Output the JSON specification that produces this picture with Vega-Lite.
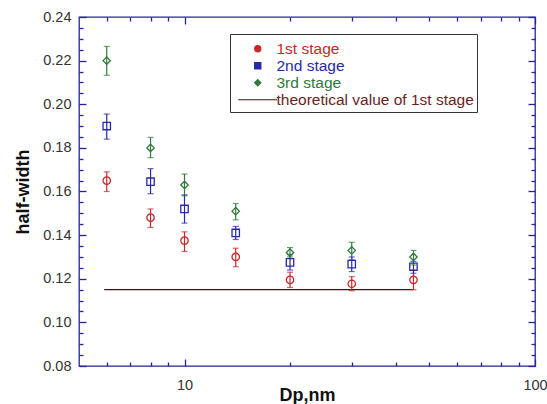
{
  "$schema": "https://vega.github.io/schema/vega-lite/v6.json",
  "width": 456,
  "height": 349,
  "autosize": {"type": "none"},
  "padding": {"left": 79, "top": 17, "right": 12, "bottom": 38},
  "background": "white",
  "config": {
    "view": {"stroke": "#24249c", "strokeWidth": 1.3},
    "font": "Liberation Sans",
    "axis": {
      "domain": false,
      "ticks": true,
      "tickColor": "#24249c",
      "tickWidth": 1.3,
      "tickOpacity": 1,
      "grid": false,
      "zindex": 1,
      "labelColor": "#333333",
      "labelFont": "Liberation Sans",
      "labelFontSize": 14.5,
      "titleFont": "Liberation Sans",
      "titleFontSize": 18,
      "titleFontWeight": "bold",
      "titleColor": "#111111",
      "labelFlush": false,
      "labelOverlap": false
    }
  },
  "datasets": {
    "pts": [
      {"x": 6, "y": 0.165, "lo": 0.160, "hi": 0.169, "s": "1st stage"},
      {"x": 8, "y": 0.148, "lo": 0.1435, "hi": 0.152, "s": "1st stage"},
      {"x": 10, "y": 0.1375, "lo": 0.1325, "hi": 0.1415, "s": "1st stage"},
      {"x": 14, "y": 0.130, "lo": 0.1255, "hi": 0.134, "s": "1st stage"},
      {"x": 20, "y": 0.1195, "lo": 0.116, "hi": 0.123, "s": "1st stage"},
      {"x": 30, "y": 0.1177, "lo": 0.1145, "hi": 0.121, "s": "1st stage"},
      {"x": 45, "y": 0.1195, "lo": 0.115, "hi": 0.124, "s": "1st stage"},
      {"x": 6, "y": 0.190, "lo": 0.184, "hi": 0.1955, "s": "2nd stage"},
      {"x": 8, "y": 0.1645, "lo": 0.159, "hi": 0.1705, "s": "2nd stage"},
      {"x": 10, "y": 0.152, "lo": 0.1455, "hi": 0.1585, "s": "2nd stage"},
      {"x": 14, "y": 0.141, "lo": 0.138, "hi": 0.144, "s": "2nd stage"},
      {"x": 20, "y": 0.1275, "lo": 0.124, "hi": 0.131, "s": "2nd stage"},
      {"x": 30, "y": 0.1267, "lo": 0.1233, "hi": 0.130, "s": "2nd stage"},
      {"x": 45, "y": 0.1255, "lo": 0.1225, "hi": 0.128, "s": "2nd stage"},
      {"x": 6, "y": 0.220, "lo": 0.2133, "hi": 0.2265, "s": "3rd stage"},
      {"x": 8, "y": 0.180, "lo": 0.1755, "hi": 0.1848, "s": "3rd stage"},
      {"x": 10, "y": 0.163, "lo": 0.158, "hi": 0.168, "s": "3rd stage"},
      {"x": 14, "y": 0.151, "lo": 0.147, "hi": 0.1545, "s": "3rd stage"},
      {"x": 20, "y": 0.132, "lo": 0.130, "hi": 0.1343, "s": "3rd stage"},
      {"x": 30, "y": 0.133, "lo": 0.1287, "hi": 0.1367, "s": "3rd stage"},
      {"x": 45, "y": 0.130, "lo": 0.1263, "hi": 0.133, "s": "3rd stage"}
    ],
    "th": [
      {"x": 5.9, "y": 0.115, "s": "theoretical value of 1st stage"},
      {"x": 45, "y": 0.115, "s": "theoretical value of 1st stage"}
    ]
  },
  "resolve": {"axis": {"x": "independent", "y": "independent"}},
  "layer": [
    {
      "data": {"name": "th"},
      "mark": {"type": "line", "strokeWidth": 1.3},
      "encoding": {
        "x": {
          "field": "x", "type": "quantitative",
          "scale": {"type": "log", "domain": [5, 100], "nice": false},
          "axis": {
            "orient": "bottom",
            "title": "Dp,nm",
            "values": [10, 100],
            "format": "d",
            "offset": -7,
            "tickSize": 7,
            "labelPadding": 12,
            "titlePadding": -5
          }
        },
        "y": {
          "field": "y", "type": "quantitative",
          "scale": {"domain": [0.08, 0.24], "nice": false, "zero": false},
          "axis": {
            "orient": "left",
            "title": "half-width",
            "values": [0.08, 0.1, 0.12, 0.14, 0.16, 0.18, 0.2, 0.22, 0.24],
            "format": ".2f",
            "offset": -7,
            "tickSize": 7,
            "labelPadding": 8,
            "titlePadding": 10
          }
        },
        "color": {
          "field": "s", "type": "nominal",
          "scale": {
            "domain": ["1st stage", "2nd stage", "3rd stage", "theoretical value of 1st stage"],
            "range": ["#c8282a", "#2828a8", "#2f7a3a", "#3a1818"]
          },
          "legend": {
            "orient": "none", "legendX": 151, "legendY": 17,
            "title": " ", "titleFontSize": 3, "titlePadding": 1.5,
            "fillColor": "white", "strokeColor": "#333333",
            "padding": 3, "clipHeight": 14.5, "rowPadding": 1,
            "symbolSize": 40, "symbolStrokeWidth": 1.1,
            "symbolOffset": 17, "labelOffset": 11, "labelLimit": 400,
            "labelFont": "Liberation Sans", "labelFontSize": 15.5,
            "encode": {
              "symbols": {"update": {
                "size": {"signal": "datum.value == 'theoretical value of 1st stage' ? 1521 : 40"},
                "fill": {"value": "transparent"},
                "stroke": {"signal": "datum.value == '1st stage' ? '#c8282a' : datum.value == '2nd stage' ? '#2828a8' : datum.value == '3rd stage' ? '#2f7a3a' : '#4a1a1a'"},
                "strokeWidth": {"value": 1.1}
              }},
              "labels": {"update": {"fill": {"signal": "datum.value == '1st stage' ? '#c8282a' : datum.value == '2nd stage' ? '#2828a8' : datum.value == '3rd stage' ? '#2f7a3a' : '#6a1e1e'"}}}
            }
          }
        }
      }
    },
    {
      "data": {"name": "pts"},
      "mark": {"type": "rule", "strokeWidth": 1.2},
      "encoding": {
        "x": {
          "field": "x", "type": "quantitative",
          "axis": {
            "orient": "bottom", "title": null, "labels": false,
            "values": [6, 7, 8, 9, 20, 30, 40, 50, 60, 70, 80, 90],
            "offset": -4,
            "tickSize": 4
          }
        },
        "y": {
          "field": "lo", "type": "quantitative",
          "axis": {
            "orient": "left", "title": null, "labels": false,
            "values": [0.085,0.09,0.095,0.105,0.11,0.115,0.125,0.13,0.135,0.145,0.15,0.155,0.165,0.17,0.175,0.185,0.19,0.195,0.205,0.21,0.215,0.225,0.23,0.235],
            "offset": -4,
            "tickSize": 4
          }
        },
        "y2": {"field": "hi"},
        "color": {"field": "s", "type": "nominal"}
      }
    },
    {
      "data": {"name": "pts"},
      "mark": {"type": "tick", "orient": "horizontal", "size": 6, "thickness": 1.2},
      "encoding": {
        "x": {
          "field": "x", "type": "quantitative",
          "axis": {
            "orient": "top", "title": null, "labels": false,
            "values": [10, 100],
            "offset": -7,
            "tickSize": 7
          }
        },
        "y": {
          "field": "lo", "type": "quantitative",
          "axis": {
            "orient": "right", "title": null, "labels": false,
            "values": [0.08, 0.1, 0.12, 0.14, 0.16, 0.18, 0.2, 0.22, 0.24],
            "offset": -7,
            "tickSize": 7
          }
        },
        "color": {"field": "s", "type": "nominal"}
      }
    },
    {
      "data": {"name": "pts"},
      "mark": {"type": "tick", "orient": "horizontal", "size": 6, "thickness": 1.2},
      "encoding": {
        "x": {
          "field": "x", "type": "quantitative",
          "axis": {
            "orient": "top", "title": null, "labels": false,
            "values": [6, 7, 8, 9, 20, 30, 40, 50, 60, 70, 80, 90],
            "offset": -4,
            "tickSize": 4
          }
        },
        "y": {
          "field": "hi", "type": "quantitative",
          "axis": {
            "orient": "right", "title": null, "labels": false,
            "values": [0.085,0.09,0.095,0.105,0.11,0.115,0.125,0.13,0.135,0.145,0.15,0.155,0.165,0.17,0.175,0.185,0.19,0.195,0.205,0.21,0.215,0.225,0.23,0.235],
            "offset": -4,
            "tickSize": 4
          }
        },
        "color": {"field": "s", "type": "nominal"}
      }
    },
    {
      "data": {"name": "pts"},
      "mark": {"type": "point", "filled": false, "size": 55, "strokeWidth": 1.3, "opacity": 1},
      "encoding": {
        "x": {"field": "x", "type": "quantitative", "axis": null},
        "y": {"field": "y", "type": "quantitative", "axis": null},
        "color": {"field": "s", "type": "nominal"},
        "shape": {
          "field": "s", "type": "nominal",
          "scale": {
            "domain": ["1st stage", "2nd stage", "3rd stage", "theoretical value of 1st stage"],
            "range": ["circle", "square", "diamond", "stroke"]
          },
          "legend": {
            "orient": "none", "legendX": 151, "legendY": 17,
            "title": " ", "titleFontSize": 3, "titlePadding": 1.5,
            "fillColor": "white", "strokeColor": "#333333",
            "padding": 3, "clipHeight": 14.5, "rowPadding": 1,
            "symbolSize": 40, "symbolStrokeWidth": 1.1,
            "symbolOffset": 17, "labelOffset": 11, "labelLimit": 400,
            "labelFont": "Liberation Sans", "labelFontSize": 15.5,
            "encode": {
              "symbols": {"update": {
                "size": {"signal": "datum.value == 'theoretical value of 1st stage' ? 1521 : 40"},
                "fill": {"value": "transparent"},
                "stroke": {"signal": "datum.value == '1st stage' ? '#c8282a' : datum.value == '2nd stage' ? '#2828a8' : datum.value == '3rd stage' ? '#2f7a3a' : '#4a1a1a'"},
                "strokeWidth": {"value": 1.1}
              }},
              "labels": {"update": {"fill": {"signal": "datum.value == '1st stage' ? '#c8282a' : datum.value == '2nd stage' ? '#2828a8' : datum.value == '3rd stage' ? '#2f7a3a' : '#6a1e1e'"}}}
            }
          }
        }
      }
    }
  ]
}
